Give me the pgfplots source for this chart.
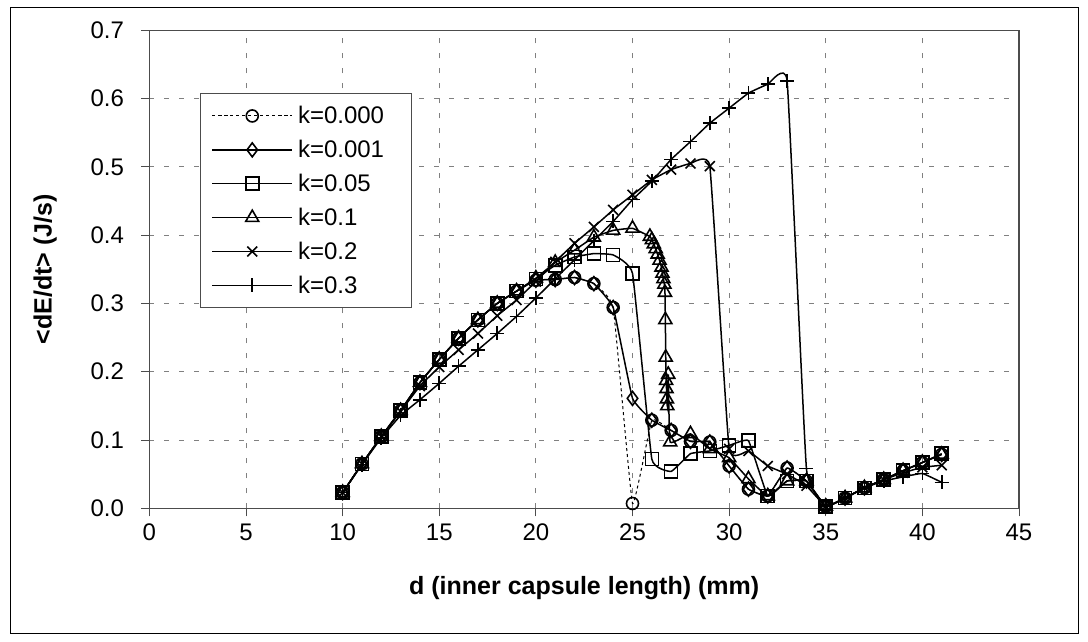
\documentclass[border=0pt]{standalone}
\usepackage{fontspec}
\setmainfont{Liberation Sans}
\usepackage{pgfplots}
\usepackage{pgfplotstable}
\pgfplotsset{compat=1.18}

\pgfplotstableread{
x y
10 0.023
11 0.065
12 0.105
13 0.143
14 0.184
15 0.218
16 0.249
17 0.276
18 0.300
19 0.318
20 0.334
21 0.335
22 0.338
23 0.329
24 0.294
25 0.007
26 0.129
27 0.114
28 0.098
29 0.097
30 0.062
31 0.028
32 0.018
33 0.059
34 0.040
35 0.003
36 0.015
37 0.030
38 0.042
39 0.055
40 0.067
41 0.079
}\kzero

\pgfplotstableread{
x y
10 0.023
11 0.065
12 0.105
13 0.143
14 0.184
15 0.218
16 0.249
17 0.276
18 0.300
19 0.318
20 0.334
21 0.335
22 0.338
23 0.329
24 0.294
25 0.161
26 0.129
27 0.114
28 0.098
29 0.097
30 0.062
31 0.028
32 0.018
33 0.059
34 0.040
35 0.003
36 0.015
37 0.030
38 0.042
39 0.055
40 0.067
41 0.079
}\kone

\pgfplotstableread{
x y
10 0.023
11 0.065
12 0.105
13 0.143
14 0.184
15 0.218
16 0.249
17 0.276
18 0.300
19 0.318
20 0.336
21 0.356
22 0.368
23 0.373
24 0.371
25 0.344
26 0.072
27 0.054
28 0.080
29 0.084
30 0.092
31 0.099
32 0.018
33 0.040
34 0.040
35 0.003
36 0.015
37 0.030
38 0.042
39 0.055
40 0.067
41 0.080
}\kfive

\pgfplotstableread{
x y
10 0.023
11 0.065
12 0.105
13 0.143
14 0.184
15 0.218
16 0.249
17 0.276
18 0.300
19 0.318
20 0.337
21 0.360
22 0.378
23 0.397
24 0.407
25 0.410
25.9 0.398
26.0 0.393
26.1 0.387
26.2 0.380
26.3 0.372
26.4 0.363
26.5 0.353
26.55 0.344
26.6 0.336
26.65 0.328
26.68 0.316
26.70 0.276
26.72 0.221
26.74 0.187
26.76 0.175
26.78 0.160
26.80 0.150
26.85 0.196
26.95 0.097
28 0.109
29 0.087
30 0.074
31 0.043
32 0.018
33 0.040
34 0.040
35 0.003
36 0.015
37 0.030
38 0.042
39 0.055
40 0.067
41 0.079
}\kten

\pgfplotstableread{
x y
10 0.023
11 0.065
12 0.105
13 0.142
14 0.179
15 0.207
16 0.232
17 0.256
18 0.282
19 0.305
20 0.332
21 0.361
22 0.388
23 0.412
24 0.437
25 0.459
26 0.481
27 0.496
28 0.505
29 0.501
30 0.087
31 0.084
32 0.062
33 0.050
34 0.033
35 0.003
36 0.015
37 0.030
38 0.042
39 0.052
40 0.060
41 0.063
}\ktwenty

\pgfplotstableread{
x y
10 0.023
11 0.064
12 0.103
13 0.136
14 0.159
15 0.183
16 0.208
17 0.232
18 0.256
19 0.281
20 0.308
21 0.336
22 0.364
23 0.392
24 0.420
25 0.452
26 0.479
27 0.511
28 0.537
29 0.564
30 0.586
31 0.608
32 0.621
33 0.626
34 0.058
35 0.003
36 0.015
37 0.030
38 0.040
39 0.046
40 0.051
41 0.038
}\kthirty

\begin{document}
\begin{tikzpicture}[x=1pt,y=1pt]
\path (0,0) rectangle (1088,642);
\draw[black, line width=1pt] (10,8) rectangle (1078,634);
\begin{axis}[
  at={(149.4pt,133.7pt)}, anchor=south west,
  scale only axis, width=869.6pt, height=478pt,
  xmin=0, xmax=45, ymin=0, ymax=0.7,
  xtick={0,5,...,45}, ytick={0,0.1,0.2,0.3,0.4,0.5,0.6,0.7},
  xtick pos=bottom, ytick pos=left,
  tick align=outside, major tick length=8pt,
  tick style={gray!60!black, line width=1pt},
  axis line style={gray!60!black, line width=1.5pt},
  grid=major,
  major grid style={gray, dash pattern=on 5pt off 10pt, line width=1pt},
  tick label style={font=\fontsize{24}{28}\selectfont},
  /pgf/number format/assume math mode=true,
  yticklabel style={xshift=-14pt, /pgf/number format/.cd,fixed,fixed zerofill,precision=1},
  xticklabel style={yshift=-4pt},
  xlabel={d (inner capsule length) (mm)},
  ylabel={<dE/dt> (J/s)},
  label style={font=\bfseries\fontsize{25}{29}\selectfont},
  xlabel style={at={(axis description cs:0.5,-0.167)}, anchor=center},
  ylabel style={at={(axis description cs:-0.12,0.5)}, anchor=center},
  clip=false,
  every axis plot/.append style={black, smooth, tension=0.18},
  legend style={at={(axis description cs:0.0582,0.8688)}, anchor=north west,
    draw=gray!60!black, line width=1pt, font=\fontsize{24}{28}\selectfont,
    row sep=11pt, column sep=3pt, inner xsep=11pt, inner ysep=11pt, cells={anchor=west}},
  legend image code/.code={\draw[mark repeat=2,mark phase=2,#1] plot coordinates {(0pt,0pt) (40pt,0pt) (80pt,0pt)};},
]
\addplot[black, line width=1pt, dash pattern=on 3pt off 3pt, mark=o, mark size=6pt, mark options={solid, line width=1.6pt}] table {\kzero};
\addlegendentry{\makebox[100pt][l]{k=0.000}}
\addplot[black, line width=1.5pt, mark=diamond, mark size=7pt, mark options={solid, line width=1.6pt}] table {\kone};
\addlegendentry{k=0.001}
\addplot[black, line width=1.5pt, mark=square, mark size=6.5pt, mark options={solid, line width=1.6pt}] table {\kfive};
\addlegendentry{k=0.05}
\addplot[black, line width=1.5pt, mark=triangle, mark size=7.5pt, mark options={solid, line width=1.6pt}] table {\kten};
\addlegendentry{k=0.1}
\addplot[black, line width=1.5pt, mark=x, mark size=7pt, mark options={solid, line width=1.6pt}] table {\ktwenty};
\addlegendentry{k=0.2}
\addplot[black, line width=1.5pt, mark=+, mark size=7pt, mark options={solid, line width=1.6pt}] table {\kthirty};
\addlegendentry{k=0.3}
\end{axis}
\end{tikzpicture}
\end{document}
